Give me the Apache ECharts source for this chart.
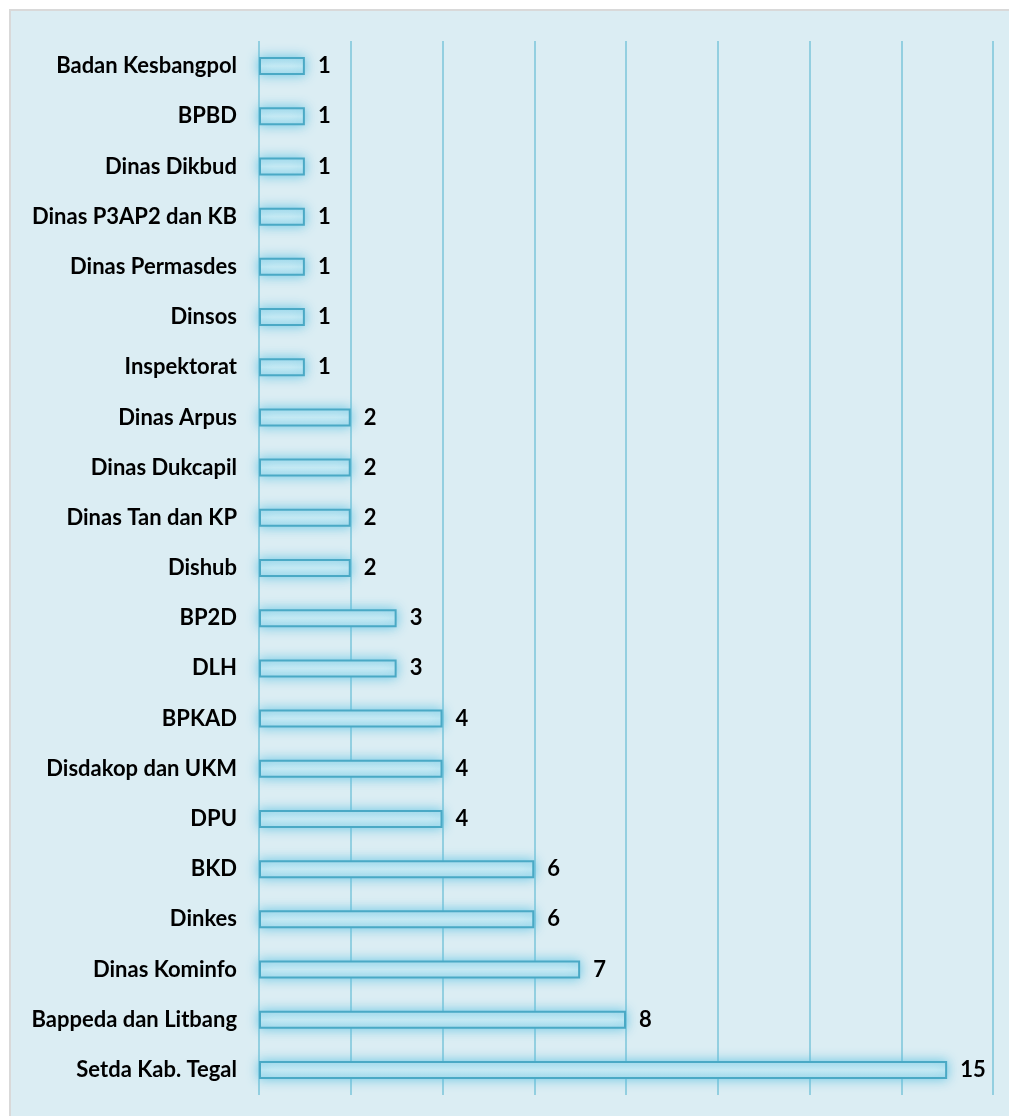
<!DOCTYPE html>
<html>
<head>
<meta charset="utf-8">
<script src="https://cdn.jsdelivr.net/npm/echarts@6/dist/echarts.min.js"></script>
<style>
  html, body { margin: 0; padding: 0; background: #fff; }
  #box { width: 1009px; height: 1116px; }
</style>
</head>
<body>
<div id="box"></div>
<script>
// categories top to bottom
let categories = [
  "Badan Kesbangpol", "BPBD", "Dinas Dikbud", "Dinas P3AP2 dan KB",
  "Dinas Permasdes", "Dinsos", "Inspektorat", "Dinas Arpus",
  "Dinas Dukcapil", "Dinas Tan dan KP", "Dishub", "BP2D", "DLH",
  "BPKAD", "Disdakop dan UKM", "DPU", "BKD", "Dinkes",
  "Dinas Kominfo", "Bappeda dan Litbang", "Setda Kab. Tegal"
];
let values = [1, 1, 1, 1, 1, 1, 1, 2, 2, 2, 2, 3, 3, 4, 4, 4, 6, 6, 7, 8, 15];
let axisMax = 16;
let axisStep = 2;

let chart = echarts.init(document.getElementById("box"), null, { renderer: "canvas" });
let fontFamily = "Lato, 'Open Sans', sans-serif";

let option = {
  backgroundColor: "#ffffff",
  animation: false,
  graphic: [
    {
      type: "rect",
      z: -10,
      silent: true,
      shape: { x: 10, y: 10, width: 1010, height: 1120 },
      style: { fill: "#dbedf3", stroke: "#d9d9d9", lineWidth: 2 }
    }
  ],
  grid: { left: 259, right: 16, top: 41, bottom: 21, containLabel: false },
  xAxis: {
    type: "value",
    min: 0,
    max: axisMax,
    interval: axisStep,
    axisLabel: { show: false },
    axisLine: { show: false },
    axisTick: { show: false },
    splitLine: { show: true, lineStyle: { color: "#93cfe0", width: 2 } }
  },
  yAxis: {
    type: "category",
    data: categories,
    inverse: true,
    axisLine: { show: false },
    axisTick: { show: false },
    axisLabel: {
      margin: 22,
      color: "#000",
      fontWeight: "bold",
      fontSize: 22,
      fontFamily: fontFamily
    }
  },
  series: [
    {
      type: "bar",
      data: values,
      barWidth: 18,
      itemStyle: {
        color: {
          type: "linear", x: 0, y: 0, x2: 0, y2: 1,
          colorStops: [
            { offset: 0, color: "#a9dced" },
            { offset: 0.5, color: "#d0eef6" },
            { offset: 1, color: "#a9dced" }
          ]
        },
        borderColor: "#4aa9c5",
        borderWidth: 2,
        shadowBlur: 12,
        shadowColor: "rgba(80,190,225,0.8)"
      },
      label: {
        show: true,
        position: "right",
        distance: 13,
        color: "#000",
        fontWeight: "bold",
        fontSize: 22,
        fontFamily: fontFamily
      }
    }
  ]
};

chart.setOption(option);
</script>
</body>
</html>
